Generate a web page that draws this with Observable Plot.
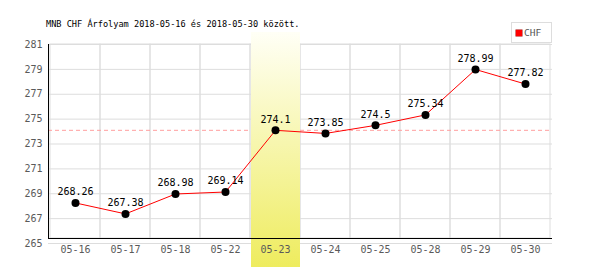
<!DOCTYPE html>
<html><head><meta charset="utf-8">
<script src="https://cdn.jsdelivr.net/npm/d3@7"></script>
<script src="https://cdn.jsdelivr.net/npm/@observablehq/plot@0.6"></script>
<style>
body{margin:0;background:#fff}
#wrap{position:relative;width:600px;height:270px;overflow:hidden}
#wrap svg{position:absolute;left:0;top:0}
#title{position:absolute;left:46px;top:19px;font:8.6px "DejaVu Sans Mono",monospace;color:#000;white-space:pre}
#legend{position:absolute;left:511px;top:22px;width:39px;height:19px;border:1px solid #ddd;background:#fff}
#legend .sw{position:absolute;left:4px;top:7px;width:6px;height:6px;background:#f00;box-shadow:0 0 0 0.5px #a00}
#legend .lb{position:absolute;left:12px;top:4px;font:9.5px "DejaVu Sans Mono",monospace;color:#555}
</style></head>
<body>
<div id="wrap">
  <div id="title">MNB CHF Árfolyam 2018-05-16 és 2018-05-30 között.</div>
</div>
<script>
const dates = ["05-16","05-17","05-18","05-22","05-23","05-24","05-25","05-28","05-29","05-30"];
const values = [268.26, 267.38, 268.98, 269.14, 274.1, 273.85, 274.5, 275.34, 278.99, 277.82];
const yTicks = [265, 267, 269, 271, 273, 275, 277, 279, 281];
const seriesName = "CHF";
const highlightDate = "05-23";
const highlightValue = 274.1;

const data = dates.map((d, i) => ({date: d, value: values[i]}));
const yMin = yTicks[0], yMax = yTicks[yTicks.length - 1];

const plot = Plot.plot({
  width: 600, height: 270,
  marginLeft: 48, marginRight: 48, marginTop: 44, marginBottom: 27,
  style: {fontFamily: "'DejaVu Sans Mono', monospace", fontSize: "10px", background: "transparent"},
  x: {type: "band", domain: dates, padding: 0, axis: null, label: null},
  y: {domain: [yMin, yMax], axis: null, label: null},
  marks: [
    Plot.ruleY(yTicks, {stroke: "#dddddd"}),
    Plot.barY(dates, {x: d => d, y1: yMin, y2: yMax, fill: "none", stroke: "#dddddd", insetBottom: 5}),
    Plot.ruleY([highlightValue], {stroke: "#ff9f9f", strokeDasharray: "4,3"}),
    Plot.barY([highlightDate], {x: d => d, y1: yMin, y2: yMax, fill: "url(#hlgrad)", insetTop: -12, insetBottom: -24, insetLeft: 1}),
    Plot.ruleY([yMin], {stroke: "black", dy: -5}),
    Plot.frame({anchor: "left", stroke: "black", insetBottom: 5}),
    Plot.line(data, {x: "date", y: "value", stroke: "red", strokeWidth: 1}),
    Plot.dot(data, {x: "date", y: "value", r: 4, fill: "black"}),
    Plot.text(data, {x: "date", y: "value", text: d => String(d.value), dy: -11, fontSize: 10, fill: "black"}),
    Plot.axisX({tickSize: 0, tickPadding: 2, fill: "#5a5a5a", fontSize: 10, label: null}),
    Plot.axisY(yTicks, {tickSize: 0, tickPadding: 6, fill: "#5a5a5a", fontSize: 10, label: null})
  ]
});

d3.select(plot).insert("defs", ":first-child").html(
  '<linearGradient id="hlgrad" x1="0" y1="0" x2="0" y2="1">' +
  '<stop offset="0" stop-color="#fffff6"/>' +
  '<stop offset="1" stop-color="#eeec5e"/>' +
  '</linearGradient>');

const wrap = document.getElementById("wrap");
wrap.insertBefore(plot, wrap.firstChild);

const legend = document.createElement("div");
legend.id = "legend";
legend.innerHTML = '<div class="sw"></div><div class="lb"></div>';
legend.querySelector(".lb").textContent = seriesName;
wrap.appendChild(legend);
</script>
</body></html>
